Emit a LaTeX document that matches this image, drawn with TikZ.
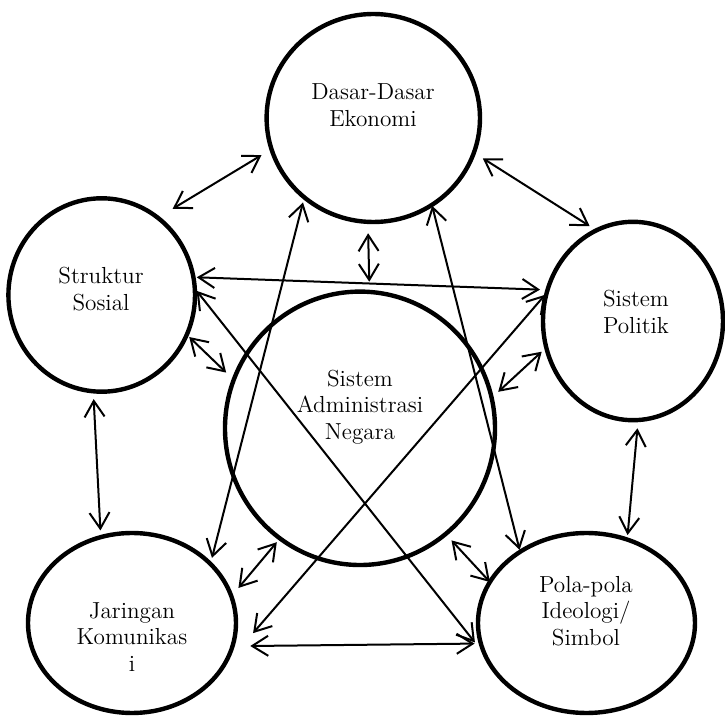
\documentclass[tikz,border=0pt]{standalone}
\usepackage{tikz}
\usetikzlibrary{shapes.geometric}
\usetikzlibrary{arrows.meta}

\begin{document}
\begin{tikzpicture}[x=0.5pt,y=-0.5pt,
  blob/.style={draw, ellipse, line width=2.2pt, inner sep=0pt, outer sep=0pt},
  link/.style={line width=1pt, {Straight Barb[length=8pt,width=10pt]}-{Straight Barb[length=8pt,width=10pt]}},
  txt/.style={align=center, font=\fontsize{11.6}{13.3}\selectfont}]

\useasboundingbox (0,0) rectangle (725,717);

% Draw the six circles
\node[blob, minimum width=106.7pt, minimum height=104pt] (de) at (373.3,118) {};
\node[blob, minimum width=93.3pt, minimum height=96.7pt] (ss) at (101.7,295) {};
\node[blob, minimum width=90pt, minimum height=99.2pt] (sp) at (633,321) {};
\node[blob, minimum width=135pt, minimum height=136.7pt] (san) at (360,428.3) {};
\node[blob, minimum width=104pt, minimum height=90pt] (jk) at (132,623) {};
\node[blob, minimum width=108.5pt, minimum height=90pt] (pp) at (586.5,623) {};

% Texts inside the circles
\node[txt] (de-t) at (373,105) {Dasar-Dasar\\Ekonomi};
\node[txt] (ss-t) at (101,289) {Struktur\\Sosial};
\node[txt] (sp-t) at (636,312) {Sistem\\Politik};
\node[txt] (san-t) at (360,407) {Sistem\\Administrasi\\Negara};
\node[txt] (jk-t) at (132,637) {Jaringan\\Komunikas\\i};
\node[txt] (pp-t) at (586,611) {Pola-pola\\Ideologi/\\Simbol};

% Two-way arrows between the circles
\draw[link, shorten <=8.7pt, shorten >=5.8pt] (ss.54.8) -- (de.197.6);
\draw[link, shorten <=5.25pt, shorten >=4pt] (de.341.9) -- (sp.112.2);
\draw[link, shorten <=5.7pt, shorten >=5.1pt] (de.267.2) -- (san.86.5);
\draw[link, shorten <=1.7pt, shorten >=3.75pt] (ss.11.4) -- (sp.160.3);
\draw[link, shorten <=1.5pt, shorten >=8.5pt] (ss.4.5) -- (pp.198.1);
\draw[link, shorten <=1.7pt, shorten >=5.25pt] (ss.335.2) -- (san.159.4);
\draw[link, shorten <=3.9pt, shorten >=3.35pt] (ss.265.9) -- (jk.110.3);
\draw[link, shorten <=2.65pt, shorten >=3.1pt] (de.229.7) -- (jk.37.3);
\draw[link, shorten <=0.45pt, shorten >=1pt] (de.304.8) -- (pp.133.4);
\draw[link, shorten <=1.25pt, shorten >=29pt] (sp.162.1) -- (jk.327);
\draw[link, shorten <=3.1pt, shorten >=4.5pt] (sp.197) -- (san.13);
\draw[link, shorten <=4.15pt, shorten >=2.3pt] (sp.273.5) -- (pp.64.2);
\draw[link, shorten <=2.5pt, shorten >=5.5pt] (san.234.9) -- (jk.15.9);
\draw[link, shorten <=4.35pt] (san.309.9) -- (pp.157.8);
\draw[link, shorten <=8.9pt, shorten >=3.15pt] (jk.347.7) -- (pp.191.8);

\end{tikzpicture}
\end{document}
